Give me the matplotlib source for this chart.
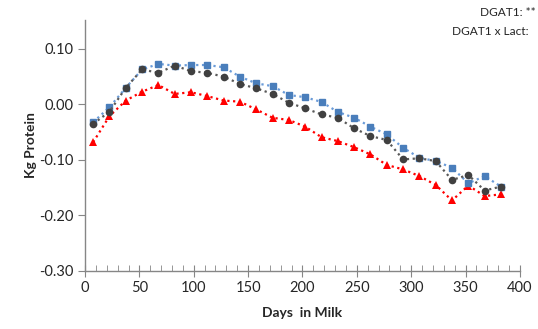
import numpy as np
import matplotlib.pyplot as plt
from matplotlib.ticker import MultipleLocator

plt.rcParams['font.family'] = ['Lato', 'DejaVu Sans']

# dias en leche (puntos medios de periodos de 15 dias)
dias = [7.5 + 15 * i for i in range(26)]

cuadrados = [-0.032, -0.005, 0.030, 0.063, 0.073, 0.070, 0.071, 0.071, 0.067,
             0.050, 0.038, 0.033, 0.017, 0.013, 0.0045, -0.0135, -0.024, -0.040,
             -0.054, -0.078, -0.096, -0.102, -0.114, -0.142, -0.129, -0.148]
circulos = [-0.035, -0.013, 0.030, 0.063, 0.057, 0.070, 0.060, 0.057, 0.050,
            0.037, 0.029, 0.019, 0.003, -0.007, -0.018, -0.024, -0.043, -0.057,
            -0.064, -0.099, -0.097, -0.102, -0.136, -0.127, -0.155, -0.148]
triangulos = [-0.068, -0.021, 0.007, 0.023, 0.035, 0.019, 0.022, 0.015, 0.007,
              0.005, -0.009, -0.024, -0.028, -0.040, -0.059, -0.066, -0.077, -0.090,
              -0.109, -0.117, -0.129, -0.145, -0.173, -0.146, -0.165, -0.162]

fig = plt.figure(figsize=(5.38, 3.29), dpi=100)
ax = fig.add_axes([0.158, 0.1763, 0.8085, 0.7627])

ax.plot(dias, triangulos, linestyle=(0, (1, 1.6)), linewidth=1.6, color='#FF0000',
        marker='^', markersize=5.5, markeredgewidth=0)
ax.plot(dias, cuadrados, linestyle=(0, (1, 1.6)), linewidth=1.6, color='#6A9BD8',
        marker='s', markersize=5, markerfacecolor='#4A7EBB', markeredgecolor='#4A7EBB')
ax.plot(dias, circulos, linestyle=(0, (1, 1.6)), linewidth=1.6, color='#595959',
        marker='o', markersize=5.5, markerfacecolor='#404040', markeredgewidth=0)

ax.set_xlim(0, 400)
ax.set_ylim(-0.30, 0.152)
ax.xaxis.set_major_locator(MultipleLocator(50))
ax.xaxis.set_minor_locator(MultipleLocator(10))
ax.set_yticks([-0.30, -0.20, -0.10, 0.00, 0.10])
ax.set_yticklabels(['-0.30', '-0.20', '-0.10', '0.00', '0.10'])

for s in ['top', 'right']:
    ax.spines[s].set_visible(False)
for s in ['left', 'bottom']:
    ax.spines[s].set_color('#868686')
    ax.spines[s].set_linewidth(1)

ax.tick_params(axis='x', which='major', direction='inout', length=8, color='#868686',
               labelsize=10.5, labelcolor='#262626', pad=3)
ax.tick_params(axis='x', which='minor', direction='in', length=4, color='#868686')
ax.tick_params(axis='y', which='major', direction='out', length=5, color='#868686',
               labelsize=10.5, labelcolor='#262626', pad=3)

ax.set_xlabel('Days  in Milk', fontsize=10, fontweight='bold', color='#262626', labelpad=9)
ax.set_ylabel('Kg Protein', fontsize=10, fontweight='bold', color='#262626', labelpad=2)

fig.text(0.996, 0.962, 'DGAT1: **', fontsize=8.6, ha='right', va='center', color='#262626')
fig.text(0.982, 0.905, 'DGAT1 x Lact:', fontsize=8.6, ha='right', va='center', color='#262626')

fig.savefig('out.png', dpi=100)
